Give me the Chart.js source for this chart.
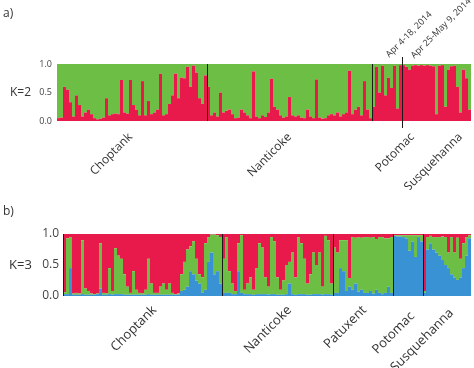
<!DOCTYPE html>
<html><head><meta charset="utf-8">
<script src="https://cdn.jsdelivr.net/npm/chart.js@4"></script>
<style>
html,body{margin:0;padding:0;background:#fff;width:474px;height:368px;overflow:hidden}
#wa{position:absolute;left:0;top:0;width:474px;height:190px}
#wb{position:absolute;left:0;top:190px;width:474px;height:178px}
</style></head><body>
<div id="wa"><canvas id="ca" width="474" height="190"></canvas></div>
<div id="wb"><canvas id="cb" width="474" height="178"></canvas></div>
<script>
// ---------- Panel a (K=2): red ancestry fraction per individual ----------
const redA = [
 0.05,0.06,0.6,0.55,0.33,0.08,0.45,0.28,0.08,0.15,
 0.2,0.12,0.05,0.03,0.04,0.06,0.4,0.1,0.12,0.13,
 0.12,0.72,0.15,0.13,0.72,0.28,0.2,0.1,0.7,0.1,
 0.35,0.12,0.15,0.2,0.83,0.1,0.12,0.3,0.45,0.83,
 0.4,0.76,0.75,0.95,0.6,0.97,0.85,0.4,0.3,0.8,
 0.6,0.1,0.15,0.08,0.5,0.15,0.18,0.2,0.12,0.05,
 0.06,0.2,0.15,0.1,0.05,0.87,0.08,0.05,0.1,0.07,
 0.15,0.74,0.25,0.2,0.1,0.06,0.08,0.42,0.1,0.08,
 0.1,0.06,0.05,0.2,0.08,0.05,0.73,0.06,0.04,0.05,
 0.1,0.12,0.1,0.15,0.08,0.12,0.15,0.88,0.12,0.2,
 0.25,0.1,0.7,0.2,0.05,0.25,0.95,0.5,0.97,0.45,
 0.76,0.58,0.97,0.22,0.98,0.98,0.95,0.9,0.97,0.98,
 0.97,0.98,0.97,0.98,0.97,0.96,0.12,0.97,0.98,0.25,
 0.9,0.96,0.97,0.6,0.15,0.9,0.75,0.2
];
const popNamesA = ['Choptank','Nanticoke','Potomac','Susquehanna'];
const popLabelIdxA = [24, 77, 118, 134];
const dividersA = [50, 105, 115];
const dateLabelsA = ['Apr 4-18, 2014','Apr 25-May 9, 2014'];
const yTicks = ['0.0','0.5','1.0'];

// ---------- Panel b (K=3): blue and green fractions, red is the rest ----------
const blueB = [
 .03,.03,.45,.02,.02,.02,.03,.02,.02,.02,
 .02,.03,.12,.02,.02,.03,.02,.03,.03,.03,
 .02,.02,.02,.02,.02,.02,.02,.02,.03,.02,
 .02,.02,.02,.02,.02,.02,.02,.02,.02,.08,
 .10,.15,.40,.35,.25,.20,.05,.10,.55,.70,
 .35,.40,.20,.05,.05,.05,.03,.03,.40,.05,
 .03,.03,.03,.02,.03,.03,.03,.03,.02,.03,
 .03,.02,.02,.02,.03,.20,.03,.02,.03,.03,
 .03,.02,.02,.03,.03,.03,.02,.03,.03,.02,
 .05,.05,.45,.40,.08,.15,.10,.20,.07,.10,
 .05,.05,.08,.04,.10,.05,.03,.05,.15,.05,
 .97,.96,.96,.95,.93,.73,.88,.63,.95,.88,
 .05,.75,.85,.75,.70,.65,.58,.50,.45,.35,
 .30,.26,.30,.45,.65,.93
];
const greenB = [
 .03,.90,.50,.02,.03,.02,.87,.10,.06,.02,
 .01,.01,.73,.03,.02,.42,.06,.74,.62,.57,
 .33,.13,.03,.38,.08,.03,.02,.08,.57,.18,
 .03,.03,.13,.18,.08,.18,.03,.01,.02,.27,
 .45,.60,.40,.53,.35,.15,.25,.75,.40,.29,
 .64,.58,.75,.55,.90,.35,.17,.05,.45,.93,
 .07,.17,.27,.08,.42,.82,.75,.27,.13,.92,
 .85,.28,.08,.23,.47,.35,.67,.28,.92,.82,
 .57,.18,.33,.67,.47,.67,.13,.94,.87,.18,
 .73,.65,.45,.50,.82,.14,.85,.74,.88,.84,
 .90,.90,.86,.91,.82,.90,.92,.88,.78,.90,
 .01,.02,.02,.03,.05,.25,.10,.35,.03,.10,
 .03,.20,.12,.20,.25,.30,.38,.45,.25,.60,
 .40,.68,.30,.40,.30,.05
];
const popNamesB = ['Choptank','Nanticoke','Patuxent','Potomac','Susquehanna'];
const popLabelIdxB = [30, 75, 100, 116, 129];
const dividersB = [0, 53, 90, 110, 120];

const C = {red:'#E8194B', green:'#6CBE45', blue:'#3892D3', text:'#333333'};
const FONT = '"Open Sans", "DejaVu Sans", sans-serif';

function rotText(ctx, txt, x, y, align, size){
  ctx.save(); ctx.translate(x, y); ctx.rotate(-Math.PI/4);
  ctx.textAlign = align; ctx.textBaseline = 'middle';
  ctx.font = size + 'px ' + FONT; ctx.fillStyle = C.text;
  ctx.fillText(txt, 0, 0); ctx.restore();
}
function divX(x, j){
  const half = (x.getPixelForValue(1) - x.getPixelForValue(0)) / 2;
  return Math.floor(x.getPixelForValue(j) - half) + 0.5;
}

const annA = {id:'annA', afterDatasetsDraw(chart){
  const {ctx, chartArea:a, scales:{x}} = chart;
  ctx.save(); ctx.strokeStyle = '#1a1a1a'; ctx.lineWidth = 1;
  dividersA.forEach((j, k) => {
    const px = divX(x, j);
    const ext = (k === 2) ? 7 : 0;
    ctx.beginPath(); ctx.moveTo(px, a.top - ext); ctx.lineTo(px, a.bottom + ext); ctx.stroke();
  });
  ctx.restore();
  ctx.save(); ctx.fillStyle = C.text; ctx.textBaseline = 'middle'; ctx.textAlign = 'left';
  ctx.font = '12px ' + FONT; ctx.fillText('a)', 3, 14);
  ctx.font = '12px ' + FONT; ctx.fillText('K=2', 10, (a.top + a.bottom) / 2);
  ctx.restore();
  popNamesA.forEach((n, k) => rotText(ctx, n, x.getPixelForValue(popLabelIdxA[k]), a.bottom + 14, 'right', 12));
  rotText(ctx, dateLabelsA[0], divX(x, dividersA[1]) + 15, a.top - 8, 'left', 9);
  rotText(ctx, dateLabelsA[1], divX(x, dividersA[2]) + 10, a.top - 7, 'left', 9);
}};

const annB = {id:'annB', afterDatasetsDraw(chart){
  const {ctx, chartArea:a, scales:{x}} = chart;
  ctx.save(); ctx.strokeStyle = '#1a1a1a'; ctx.lineWidth = 1;
  dividersB.forEach(j => {
    const px = divX(x, j);
    ctx.beginPath(); ctx.moveTo(px, a.top); ctx.lineTo(px, a.bottom); ctx.stroke();
  });
  ctx.restore();
  ctx.save(); ctx.fillStyle = C.text; ctx.textBaseline = 'middle'; ctx.textAlign = 'left';
  ctx.font = '12px ' + FONT; ctx.fillText('b)', 3, 22);
  ctx.font = '13px ' + FONT; ctx.fillText('K=3', 9, (a.top + a.bottom) / 2);
  ctx.restore();
  const yOff = [12, 12, 12, 18, 15];
  popNamesB.forEach((n, k) => rotText(ctx, n, x.getPixelForValue(popLabelIdxB[k]), a.bottom + yOff[k], 'right', 13));
}};

function yAxis(width, size, pad){
  return {stacked:true, min:0, max:1,
    ticks:{stepSize:0.5, padding:pad, color:'#444', font:{family:FONT, size:size},
      callback:(v) => yTicks[Math.round(v*2)]},
    grid:{display:false, drawTicks:false}, border:{display:false},
    afterFit(s){ s.width = width; }};
}
const common = {responsive:false, animation:false, devicePixelRatio:1,
  plugins:{legend:{display:false}, tooltip:{enabled:false}}};
const barDs = {barPercentage:1, categoryPercentage:1, borderWidth:0, inflateAmount:0};

new Chart(document.getElementById('ca'), {
  type:'bar',
  data:{labels: redA.map((_, i) => i + 1),
    datasets:[
      Object.assign({label:'cluster 1', data: redA, backgroundColor: C.red}, barDs),
      Object.assign({label:'cluster 2', data: redA.map(r => 1 - r), backgroundColor: C.green}, barDs)
    ]},
  options: Object.assign({}, common, {
    layout:{padding:{top:64, bottom:69, left:0, right:3}},
    scales:{x:{stacked:true, display:false}, y: yAxis(57, 9, 5)}}),
  plugins:[annA]
});

new Chart(document.getElementById('cb'), {
  type:'bar',
  data:{labels: blueB.map((_, i) => i + 1),
    datasets:[
      Object.assign({label:'cluster 3', data: blueB, backgroundColor: C.blue}, barDs),
      Object.assign({label:'cluster 2', data: greenB, backgroundColor: C.green}, barDs),
      Object.assign({label:'cluster 1', data: blueB.map((b, i) => Math.max(0, 1 - b - greenB[i])), backgroundColor: C.red}, barDs)
    ]},
  options: Object.assign({}, common, {
    layout:{padding:{top:44, bottom:72, left:0, right:3}},
    scales:{x:{stacked:true, display:false}, y: yAxis(63, 12, 4)}}),
  plugins:[annB]
});
</script>
</body></html>
